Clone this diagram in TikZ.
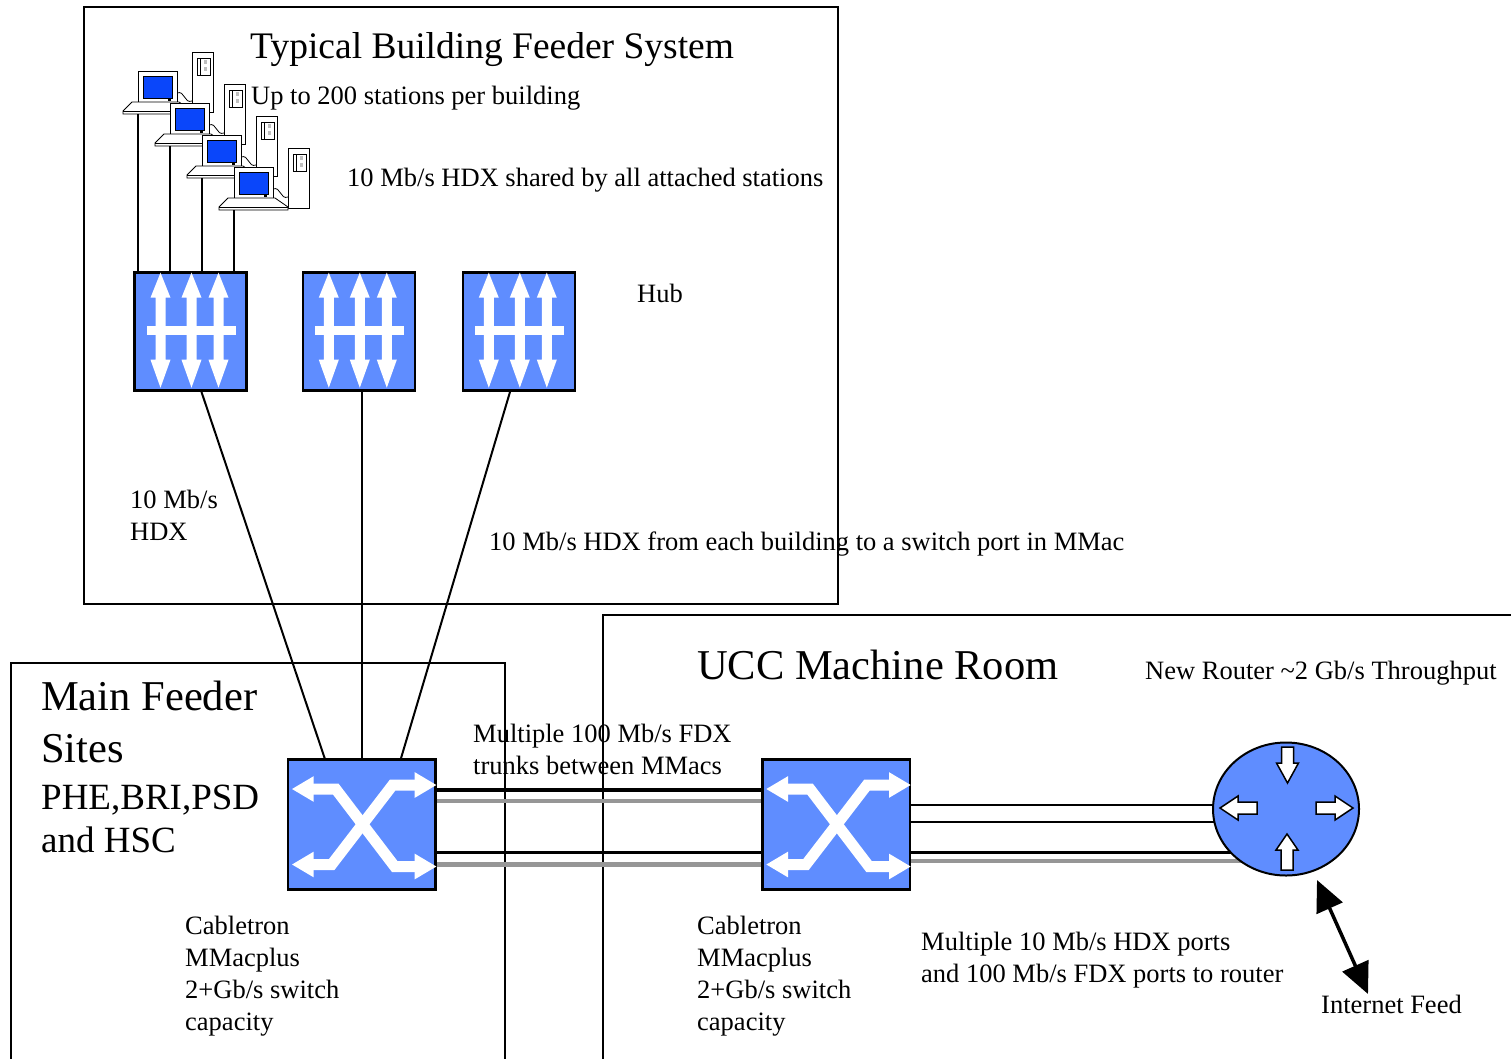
\documentclass[tikz,border=0pt]{standalone}
\usepackage{fontspec}
\setmainfont{Liberation Serif}
\usetikzlibrary{arrows.meta,calc,positioning,shapes.geometric,backgrounds}

\definecolor{devblue}{RGB}{95,141,255}
\definecolor{screenblue}{RGB}{10,70,250}
\definecolor{trunkgray}{RGB}{150,150,150}

\tikzset{
  txt/.style={inner sep=0pt, anchor=base west, align=left, font=\fontsize{26.5}{32}\selectfont},
  headtxt/.style={txt, font=\fontsize{37.5}{45}\selectfont},
  roomtxt/.style={txt, font=\fontsize{42.5}{52}\selectfont},
  sitetxt/.style={txt, font=\fontsize{37}{43}\selectfont},
  frame/.style={line width=2pt},
  drop/.style={line width=2pt},
  link/.style={line width=2pt},
  trunk/.style={line width=3.5pt},
  trunkgrey/.style={line width=4.5pt, draw=trunkgray},
  hub/.style={draw, line width=2.5pt, fill=devblue, minimum width=112pt, minimum height=118pt, inner sep=0pt},
  mmac/.style={draw, line width=2.5pt, fill=devblue, minimum width=147.5pt, minimum height=130pt, inner sep=0pt},
  router/.style={ellipse, draw, line width=2pt, fill=devblue, minimum width=146pt, minimum height=133pt, inner sep=0pt},
  swarrow/.style={white, line width=11pt, arrows={Triangle[width=24pt,length=22pt]-Triangle[width=24pt,length=22pt]}},
  rtarrow/.style={draw=black, fill=white, line width=1.5pt},
  feed/.style={line width=3.5pt, arrows={Triangle[width=28pt,length=31pt]-Triangle[width=28pt,length=31pt]}},
  % workstation: monitor, keyboard and tower
  station/.pic={
    \draw[fill=white, line width=1pt] (54,-19) rectangle (75,41);
    \draw[line width=0.8pt] (59,-13) rectangle (72,4);
    \draw[line width=0.8pt] (62,-13) -- (62,4);
    \fill[black!25] (66,-11) rectangle (69,-7);
    \fill[black!25] (66,-4) rectangle (69,0);
    \draw[line width=0.8pt] (39,22) .. controls (47,19) and (46,33) .. (54,30);
    \draw[fill=white, line width=1pt] (0,0) rectangle (39,31);
    \draw[fill=screenblue, line width=0.8pt] (5,5) rectangle (34,27);
    \fill (30,28) rectangle (33,29.5);
    \draw[fill=white, line width=0.8pt] (-6,31) -- (41,31) -- (54,40) -- (54,43) -- (-15,43) -- (-15,40) -- cycle;
    \draw[line width=0.8pt] (-15,40) -- (54,40);
  },
  % hub glyph: three double arrows on a bus
  hubicon/.pic={
    \foreach \c in {-30,1,28} {
      \fill[white] (\c-5,-4) -- (\c-5,-34) -- (\c-10,-34) -- (\c,-59) -- (\c+10,-34) -- (\c+5,-34) -- (\c+5,-4) -- cycle;
      \fill[white] (\c-5,2) -- (\c-5,28) -- (\c-10,28) -- (\c,56) -- (\c+10,28) -- (\c+5,28) -- (\c+5,2) -- cycle;
    }
    \fill[white] (-44,-6) rectangle (45,3);
  },
  % switch glyph: crossed arrows
  mmacicon/.pic={
    \draw[swarrow] (-70,-35.5) -- (-26,-35.5) -- (33,42) -- (75,42);
    \draw[swarrow] (-70,40) -- (-30,40) -- (31,-39.5) -- (75,-39.5);
  },
  % router glyph: four block arrows
  routericon/.pic={
    \draw[rtarrow] (-4.5,-62) -- (7.5,-62) -- (7.5,-46) -- (12.5,-46) -- (1.5,-26) -- (-9.5,-46) -- (-4.5,-46) -- cycle;
    \draw[rtarrow] (1,25) -- (12,41) -- (7,41) -- (7,61) -- (-5,61) -- (-5,41) -- (-10,41) -- cycle;
    \draw[rtarrow] (-66,-1) -- (-48,-13) -- (-48,-7) -- (-29,-7) -- (-29,5) -- (-48,5) -- (-48,11) -- cycle;
    \draw[rtarrow] (67,-1) -- (49,-13) -- (49,-7) -- (30,-7) -- (30,5) -- (49,5) -- (49,11) -- cycle;
  },
}

\begin{document}
\begin{tikzpicture}[x=1pt, y=-1pt]
  \useasboundingbox (0,0) rectangle (1511,1058);

  % site outlines
  \draw[frame] (84,7) rectangle (838,604);
  \draw[frame] (11,1062) -- (11,663) -- (505,663) -- (505,1062);
  \draw[frame] (603,1062) -- (603,615) -- (1515,615);

  % stations in the building
  \foreach \i [count=\n] in {0,...,3} {
    \pic at ({138+32*\i},{71+32*\i}) {station};
    \coordinate (st\n) at ({137.5+32*\i},{114+32*\i});
  }

  % hubs
  \node[hub] (hubA) at (190.5,331.7) {};
  \node[hub] (hubB) at (358.8,331.7) {};
  \node[hub] (hubC) at (518.8,331.7) {};
  \foreach \h in {hubA,hubB,hubC}
    \pic at (\h) {hubicon};

  % MMac switches
  \node[mmac] (swA) at (361.7,824.5) {};
  \node[mmac] (swB) at (836,824.5) {};
  \foreach \s in {swA,swB}
    \pic at (\s) {mmacicon};

  % router
  \node[router] (rtr) at (1286,809) {};
  \pic at (rtr) {routericon};

  % station drops
  \foreach \n in {1,...,4}
    \draw[drop] (st\n) -- (st\n |- hubA.north);

  % building links
  \draw[link] ([xshift=11pt]hubA.south) -- ([xshift=-37pt]swA.north);
  \draw[link] ([xshift=3.2pt]hubB.south) -- ([xshift=0.3pt]swA.north);
  \draw[link] ([xshift=-8.8pt]hubC.south) -- ([xshift=39.3pt]swA.north);

  % trunks
  \draw[trunk] ([yshift=34.5pt]swA.east) -- ([yshift=34.5pt]swB.west);
  \draw[trunkgrey] ([yshift=23.5pt]swA.east) -- ([yshift=23.5pt]swB.west);
  \draw[trunk] ([yshift=-28pt]swA.east) -- ([yshift=-28pt]swB.west);
  \draw[trunkgrey] ([yshift=-40pt]swA.east) -- ([yshift=-40pt]swB.west);

  % router ports
  \begin{scope}[on background layer]
    \draw[link] ([yshift=19.5pt]swB.east) -- ([yshift=19.5pt]swB.east -| rtr.center);
    \draw[link] ([yshift=2.5pt]swB.east) -- ([yshift=2.5pt]swB.east -| rtr.center);
    \draw[trunk] ([yshift=-28.2pt]swB.east) -- ([yshift=-28.2pt]swB.east -| rtr.center);
    \draw[trunkgrey] ([yshift=-36.5pt]swB.east) -- ([yshift=-36.5pt]swB.east -| rtr.center);
  \end{scope}

  % internet feed
  \coordinate (feedA) at (1317,880);
  \coordinate (feedB) at (1368,994);
  \draw[feed] (feedA) -- (feedB);

  % labels
  \node[headtxt] (bldtitle) at (250,58) {Typical Building Feeder System};
  \node[txt] (stncount) at (251,104) {Up to 200 stations per building};
  \node[txt] (shared) at (347,186) {10 Mb/s HDX shared by all attached stations};
  \node[txt] (hublbl) at (637,302) {Hub};
  \node[txt] (bldrate) at (130,540) {10 Mb/s\\HDX};
  \node[txt] (bldlink) at (489,550) {10 Mb/s HDX from each building to a switch port in MMac};
  \node[roomtxt] (mftitle) at (41,762) {Main Feeder\\Sites};
  \node[sitetxt] (mfsites) at (41,852) {PHE,BRI,PSD\\and HSC};
  \node[roomtxt] (ucctitle) at (697,679) {UCC Machine Room};
  \node[txt] (newrtr) at (1145,679) {New Router \textasciitilde2 Gb/s Throughput};
  \node[txt] (trunklbl) at (473,774) {Multiple 100 Mb/s FDX\\trunks between MMacs};
  \node[txt] (mmacA) at (185,1030) {Cabletron\\MMacplus\\2+Gb/s switch\\capacity};
  \node[txt] (mmacB) at (697,1030) {Cabletron\\MMacplus\\2+Gb/s switch\\capacity};
  \node[txt] (portlbl) at (921,982) {Multiple 10 Mb/s HDX ports\\and 100 Mb/s FDX ports to router};
  \node[txt] (inet) at (1321,1013) {Internet Feed};
\end{tikzpicture}
\end{document}
